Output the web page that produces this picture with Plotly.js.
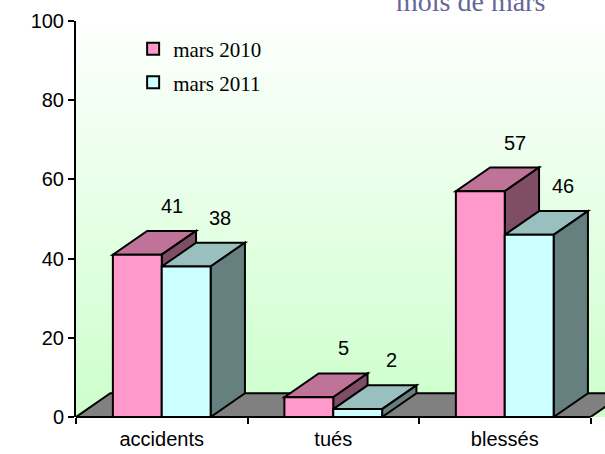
<!DOCTYPE html>
<html><head><meta charset="utf-8">
<script src="https://cdn.plot.ly/plotly-3.0.1.min.js"></script>
<style>html,body{margin:0;padding:0;background:#fff;} #chart{width:605px;height:454px;}</style>
</head><body><div id="chart"></div>
<script>
// ---- data ----
const categories = ['accidents', 'tués', 'blessés'];
const seriesNames = ['mars 2010', 'mars 2011'];
const values2010 = [41, 5, 57];
const values2011 = [38, 2, 46];
const yTicks = [0, 20, 40, 60, 80, 100];
const titleText = 'mois de mars';

// ---- style ----
const BARGAP = 0.43;
const BAR_W = (1 - BARGAP) / 2;
const DEPTH_X = 0.2;   // depth offset, category units
const DEPTH_Y = 6;     // depth offset, value units
const frontColors = ['#ff99cc', '#ccffff'];
const topColors = ['#bf7399', '#99bfbf'];
const sideColors = ['#804d66', '#668080'];
const W = 605, H = 454, ML = 76, MR = 0, MT = 21, MB = 37;
const catPx = 171.5;
const xMax = -0.5 + (W - ML - MR) / catPx;

const series = [values2010, values2011];

function poly(pts) {
  return 'M' + pts.map(p => p[0] + ',' + p[1]).join('L') + 'Z';
}

const shapes = [];
// floor
shapes.push({
  type: 'path', xref: 'x', yref: 'y', layer: 'below',
  path: poly([[-0.5, 0], [categories.length - 0.5, 0],
              [categories.length - 0.5 + DEPTH_X, DEPTH_Y], [-0.5 + DEPTH_X, DEPTH_Y]]),
  fillcolor: '#808080', line: {color: '#000', width: 2}
});
const annotations = [];
categories.forEach((c, i) => {
  series.forEach((vals, s) => {
    const v = vals[i];
    const x0 = i + (s - 1) * BAR_W, x1 = x0 + BAR_W;
    shapes.push({
      type: 'path', xref: 'x', yref: 'y', layer: 'below',
      path: poly([[x0, v], [x1, v], [x1 + DEPTH_X, v + DEPTH_Y], [x0 + DEPTH_X, v + DEPTH_Y]]),
      fillcolor: topColors[s], line: {color: '#000', width: 2}
    });
    shapes.push({
      type: 'path', xref: 'x', yref: 'y', layer: 'below',
      path: poly([[x1, 0], [x1, v], [x1 + DEPTH_X, v + DEPTH_Y], [x1 + DEPTH_X, DEPTH_Y]]),
      fillcolor: sideColors[s], line: {color: '#000', width: 2}
    });
    annotations.push({
      x: x0 + BAR_W / 2 + DEPTH_X, y: v + DEPTH_Y, xref: 'x', yref: 'y',
      text: String(v), showarrow: false, yanchor: 'middle', yshift: 25,
      font: {family: 'Liberation Sans, Arial, sans-serif', size: 20, color: '#000'}
    });
  });
});
// x axis line
shapes.push({
  type: 'line', xref: 'x', yref: 'paper', layer: 'above',
  x0: -0.5, x1: categories.length - 0.5, y0: 0, y1: 0,
  line: {color: '#000', width: 2}
});
// title (cut at top, as in the reference)
annotations.push({
  xref: 'paper', yref: 'paper', x: 0.745, y: 1.05, xanchor: 'center', yanchor: 'middle',
  text: titleText, showarrow: false,
  font: {family: 'Liberation Serif, Times New Roman, serif', size: 28, color: '#666699'}
});

const svg = '<svg xmlns="http://www.w3.org/2000/svg" width="100" height="100" preserveAspectRatio="none">' +
  '<defs><linearGradient id="g" x1="0" y1="0" x2="0" y2="1">' +
  '<stop offset="0" stop-color="#fdfffd"/><stop offset="1" stop-color="#ccffcc"/></linearGradient></defs>' +
  '<rect width="100" height="100" fill="url(#g)"/></svg>';
const bgSrc = 'data:image/svg+xml;charset=utf-8,' + encodeURIComponent(svg);

const traces = series.map((vals, s) => ({
  type: 'bar', x: categories, y: vals, name: seriesNames[s],
  legend: s === 0 ? 'legend' : 'legend2',
  marker: {color: frontColors[s], line: {color: '#000', width: 2}},
  hoverinfo: 'x+y+name'
}));

const legendFont = {family: 'Liberation Serif, Times New Roman, serif', size: 21, color: '#000'};
const layout = {
  width: W, height: H, autosize: false,
  margin: {l: ML, r: MR, t: MT, b: MB, pad: 0},
  paper_bgcolor: '#fff', plot_bgcolor: 'rgba(0,0,0,0)',
  barmode: 'group', bargap: BARGAP, bargroupgap: 0,
  showlegend: true,
  legend: {x: 0.108, y: 0.981, xanchor: 'left', yanchor: 'top', font: legendFont,
           bgcolor: 'rgba(0,0,0,0)', borderwidth: 0},
  legend2: {x: 0.108, y: 0.896, xanchor: 'left', yanchor: 'top', font: legendFont,
            bgcolor: 'rgba(0,0,0,0)', borderwidth: 0},
  xaxis: {type: 'category', range: [-0.5, xMax], tickson: 'boundaries',
          ticks: 'outside', ticklen: 6, tickwidth: 2, tickcolor: '#000',
          ticklabelstandoff: 8,
          showline: false, showgrid: false, zeroline: false,
          tickfont: {family: 'Liberation Sans, Arial, sans-serif', size: 20, color: '#000'}},
  yaxis: {range: [0, 100], tickvals: yTicks, ticks: 'outside', ticklen: 6, tickwidth: 2,
          tickcolor: '#000', showline: true, linewidth: 2, linecolor: '#000',
          showgrid: false, zeroline: false,
          tickfont: {family: 'Liberation Sans, Arial, sans-serif', size: 20, color: '#000'}},
  images: [{source: bgSrc, xref: 'paper', yref: 'paper', x: 0, y: 0.989,
            sizex: 1, sizey: 0.989, sizing: 'stretch', xanchor: 'left', yanchor: 'top',
            layer: 'below'}],
  shapes: shapes,
  annotations: annotations
};

Plotly.newPlot('chart', traces, layout, {displayModeBar: false, responsive: false});
</script>
</body></html>
